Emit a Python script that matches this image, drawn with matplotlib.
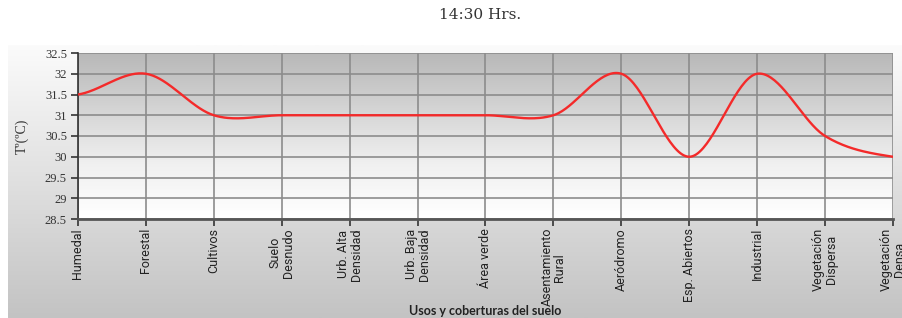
import numpy as np
import matplotlib
matplotlib.use("Agg")
import matplotlib.pyplot as plt
from matplotlib.colors import LinearSegmentedColormap

title = "14:30 Hrs."
xlabel = "Usos y coberturas del suelo"
ylabel = "Tº(ºC)"
categories = ["Humedal", "Forestal", "Cultivos", "Suelo\nDesnudo", "Urb. Alta\nDensidad",
              "Urb. Baja\nDensidad", "Área verde", "Asentamiento\nRural", "Aeródromo",
              "Esp. Abiertos", "Industrial", "Vegetación\nDispersa", "Vegetación\nDensa"]
temps = [31.5, 32.0, 31.0, 31.0, 31.0, 31.0, 31.0, 31.0, 32.0, 30.0, 32.0, 30.5, 30.0]
yticks = [28.5, 29, 29.5, 30, 30.5, 31, 31.5, 32, 32.5]
ytick_labels = ["28.5", "29", "29.5", "30", "30.5", "31", "31.5", "32", "32.5"]

W, H = 903, 318
fig = plt.figure(figsize=(W / 100, H / 100), dpi=100)
fig.patch.set_facecolor("white")

# outer gray panel with vertical gradient
bg = fig.add_axes([8 / W, 0, 1 - 8 / W, (H - 45) / H], zorder=0)
bg.axis("off")
grad = np.linspace(0, 1, 256).reshape(-1, 1)
cmap_bg = LinearSegmentedColormap.from_list("bg", ["#fbfbfb", "#e0e0e0", "#c3c3c3"])
bg.imshow(grad, aspect="auto", cmap=cmap_bg, extent=[0, 1, 0, 1], origin="upper")

x0, x1, y0, y1 = 78, 893, 53, 219
ax = fig.add_axes([x0 / W, 1 - y1 / H, (x1 - x0) / W, (y1 - y0) / H], zorder=1)
n = len(categories)
xs = np.arange(n)
ax.set_xlim(0, n - 1)
ax.set_ylim(28.5, 32.5)

cmap_pl = LinearSegmentedColormap.from_list("pl", ["#b8b8b8", "#d4d4d4", "#f0f0f0", "#ffffff"])
ax.imshow(grad, aspect="auto", cmap=cmap_pl, extent=[0, n - 1, 28.5, 32.5],
          origin="upper", zorder=0)

# smoothed line (Catmull-Rom / Hermite through the data points)
y = np.array(temps, dtype=float)
m = np.zeros(n)
m[1:-1] = (y[2:] - y[:-2]) / 2
m[0] = (y[1] - y[0]) / 2
m[-1] = (y[-1] - y[-2]) / 2
px, py = [], []
t = np.linspace(0, 1, 40)
for i in range(n - 1):
    h00 = 2 * t**3 - 3 * t**2 + 1
    h10 = t**3 - 2 * t**2 + t
    h01 = -2 * t**3 + 3 * t**2
    h11 = t**3 - t**2
    px.extend(xs[i] + t)
    py.extend(h00 * y[i] + h10 * m[i] + h01 * y[i + 1] + h11 * m[i + 1])
ax.plot(px, py, color="#f42a2a", lw=1.7, zorder=3, solid_capstyle="round")

for v in yticks:
    ax.axhline(v, color="#8c8c8c", lw=1.2, zorder=1)
for xv in xs:
    ax.axvline(xv, color="#8c8c8c", lw=1.2, zorder=1)

ax.set_yticks(yticks)
ax.set_yticklabels(ytick_labels, fontsize=9, family="Liberation Serif", color="#333333")
ax.set_xticks(xs)
ax.set_xticklabels(categories, rotation=90, fontsize=9, va="top", ha="center",
                   multialignment="center", family=["Roboto", "DejaVu Sans"],
                   color="#222222", linespacing=1.0)
ax.tick_params(axis="y", length=5, width=1.2, color="#333333", pad=3)
ax.tick_params(axis="x", length=5, width=1.2, color="#333333", pad=1.5)
for s in ["top", "right"]:
    ax.spines[s].set_visible(False)
ax.spines["left"].set_color("#333333")
ax.spines["left"].set_linewidth(1.2)
ax.spines["bottom"].set_color("#555555")
ax.spines["bottom"].set_linewidth(2)

fig.text(22 / W, 1 - 136 / H, ylabel, rotation=90, ha="center", va="center",
         fontsize=10, family="Liberation Serif", color="#333333")
fig.text(485 / W, 1 - 311 / H, xlabel, ha="center", va="center", fontsize=9,
         fontweight="bold", family=["Lato", "DejaVu Sans"], color="#222222")
fig.text(480 / W, 1 - 15 / H, title, ha="center", va="center", fontsize=11,
         family="DejaVu Serif", color="#333333")

fig.savefig("out.png", dpi=100)
